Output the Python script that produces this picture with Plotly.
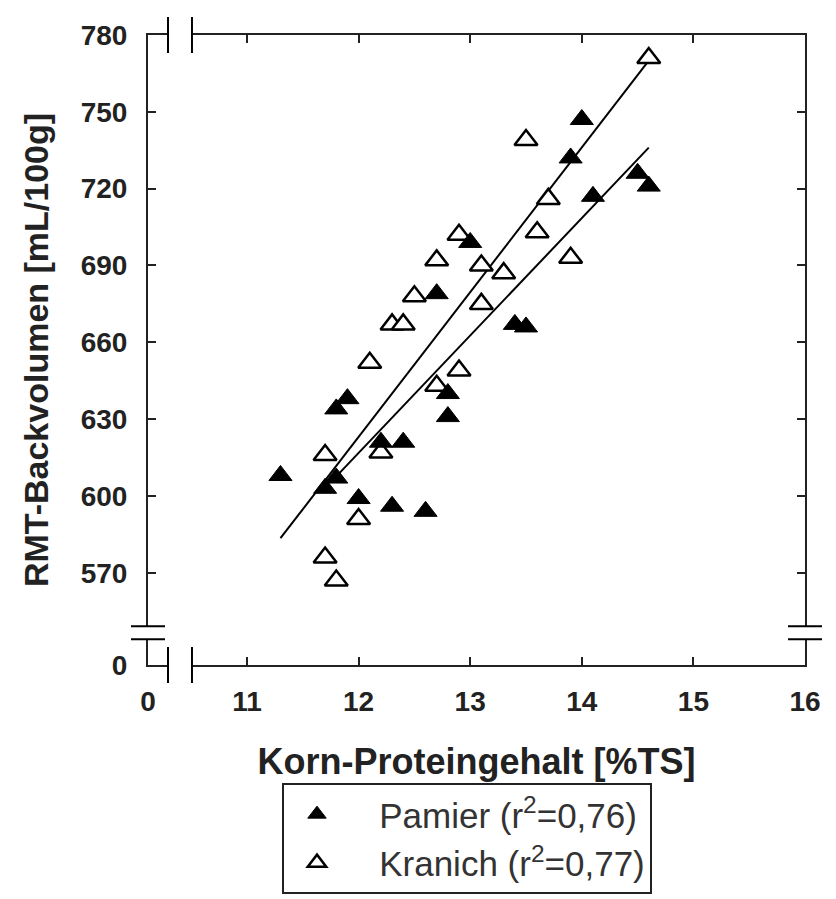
import plotly.graph_objects as go

# ---- data ----
pamier_x = [11.3, 11.7, 11.8, 11.8, 11.9, 12.0, 12.2, 12.3, 12.4, 12.6, 12.7,
            12.8, 12.8, 13.0, 13.4, 13.5, 13.9, 14.0, 14.1, 14.5, 14.6]
pamier_y = [608, 603, 607, 634, 638, 599, 621, 596, 621, 594, 679,
            640, 631, 699, 667, 666, 732, 747, 717, 726, 721]

kranich_x = [11.7, 11.7, 11.8, 12.0, 12.1, 12.2, 12.3, 12.4, 12.5, 12.7, 12.7,
             12.9, 12.9, 13.1, 13.1, 13.3, 13.5, 13.6, 13.7, 13.9, 14.6]
kranich_y = [616, 576, 567, 591, 652, 617, 667, 667, 678, 692, 643,
             649, 702, 690, 675, 687, 739, 703, 716, 693, 771]

# regression lines (end points)
fit_a_x = [11.3, 14.6]
fit_a_y = [583.5, 770]
fit_b_x = [11.83, 14.6]
fit_b_y = [609, 736]

x_tick_vals = [10.113, 11, 12, 13, 14, 15, 16]
x_tick_text = ["0", "11", "12", "13", "14", "15", "16"]
y_tick_vals = [534, 570, 600, 630, 660, 690, 720, 750, 780]
y_tick_text = ["0", "570", "600", "630", "660", "690", "720", "750", "780"]

X_RANGE = [10.113, 16]
Y_RANGE = [534, 780]
X_BREAK = [10.292, 10.507]
Y_BREAK = [544.05, 549.1]

FONT = "Liberation Sans, Arial, sans-serif"

fig = go.Figure()
fig.add_trace(go.Scatter(x=fit_a_x, y=fit_a_y, mode="lines",
                         line=dict(color="black", width=2), showlegend=False, hoverinfo="skip"))
fig.add_trace(go.Scatter(x=fit_b_x, y=fit_b_y, mode="lines",
                         line=dict(color="black", width=2), showlegend=False, hoverinfo="skip"))
fig.add_trace(go.Scatter(x=kranich_x, y=kranich_y, mode="markers",
                         name="   Kranich (r<sup>2</sup>=0,77)",
                         marker=dict(symbol="triangle-up", size=20, color="white",
                                     line=dict(color="black", width=2.5))))
fig.add_trace(go.Scatter(x=pamier_x, y=pamier_y, mode="markers",
                         name="   Pamier (r<sup>2</sup>=0,76)",
                         marker=dict(symbol="triangle-up", size=20, color="black",
                                     line=dict(color="black", width=1))))


def px(v):
    return (v - X_RANGE[0]) / (X_RANGE[1] - X_RANGE[0])


def py(v):
    return (v - Y_RANGE[0]) / (Y_RANGE[1] - Y_RANGE[0])


shapes = []
# gaps in the x axis lines (top and bottom) + break bars
for anchor in (0, 1):
    shapes.append(dict(type="rect", xref="paper", yref="paper", layer="above",
                       x0=px(X_BREAK[0]), x1=px(X_BREAK[1]),
                       ysizemode="pixel", yanchor=anchor, y0=-3, y1=3,
                       fillcolor="white", line=dict(width=0)))
    for xb in X_BREAK:
        shapes.append(dict(type="line", xref="paper", yref="paper", layer="above",
                           x0=px(xb), x1=px(xb),
                           ysizemode="pixel", yanchor=anchor, y0=-18, y1=18,
                           line=dict(color="black", width=2)))
# gaps in the y axis lines (left and right) + break bars
for anchor in (0, 1):
    shapes.append(dict(type="rect", xref="paper", yref="paper", layer="above",
                       y0=py(Y_BREAK[0]), y1=py(Y_BREAK[1]),
                       xsizemode="pixel", xanchor=anchor, x0=-3, x1=3,
                       fillcolor="white", line=dict(width=0)))
    for yb in Y_BREAK:
        shapes.append(dict(type="line", xref="paper", yref="paper", layer="above",
                           y0=py(yb), y1=py(yb),
                           xsizemode="pixel", xanchor=anchor, x0=-17, x1=17,
                           line=dict(color="black", width=2)))

fig.update_layout(
    width=836, height=899,
    margin=dict(l=140, r=39, t=21, b=242),
    paper_bgcolor="white", plot_bgcolor="white",
    font=dict(family=FONT, color="#222"),
    shapes=shapes,
    legend=dict(x=(282 - 148) / 657, xanchor="left", y=(665 - 784) / 636, yanchor="top",
                bordercolor="#222", borderwidth=2, bgcolor="white",
                font=dict(family=FONT, size=35, color="#333"),
                traceorder="reversed", itemwidth=56, tracegroupgap=0),
    xaxis=dict(range=X_RANGE, tickvals=x_tick_vals, ticktext=x_tick_text,
               showline=True, linecolor="#222", linewidth=2, mirror="ticks",
               ticks="inside", ticklen=8, tickwidth=2, tickcolor="#222",
               showgrid=False, zeroline=False, ticklabelstandoff=10,
               tickfont=dict(family=FONT, size=28, weight="bold", color="#222"),
               title=dict(text="Korn-Proteingehalt [%TS]", standoff=33,
                          font=dict(family=FONT, size=36, weight="bold", color="#222"))),
    yaxis=dict(range=Y_RANGE, tickvals=y_tick_vals, ticktext=y_tick_text,
               showline=True, linecolor="#222", linewidth=2, mirror="ticks",
               ticks="inside", ticklen=8, tickwidth=2, tickcolor="#222",
               showgrid=False, zeroline=False, ticklabelstandoff=13,
               tickfont=dict(family=FONT, size=28, weight="bold", color="#222"),
               title=dict(text="RMT-Backvolumen [mL/100g]", standoff=22,
                          font=dict(family=FONT, size=34, weight="bold", color="#222"))),
)

fig.write_html("out.html")
